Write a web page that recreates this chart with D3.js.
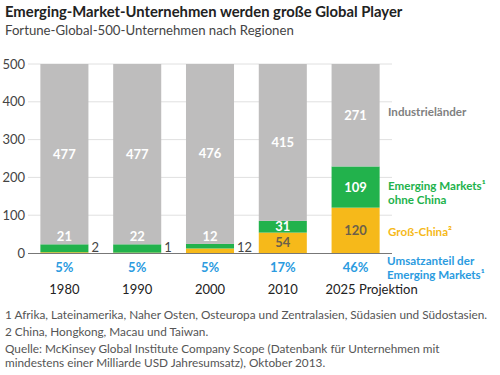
<!DOCTYPE html>
<html><head><meta charset="utf-8">
<script src="https://cdn.jsdelivr.net/npm/d3@7"></script>
<style>body{margin:0;background:#fff;} svg{display:block;font-family:Lato,"Open Sans",sans-serif;}</style>
</head><body>
<script>
const years = ["1980","1990","2000","2010","2025 Projektion"];
const china = [2,1,12,54,120];
const emerging = [21,22,12,31,109];
const industrial = [477,477,476,415,271];
const shares = ["5%","5%","5%","17%","46%"];
const yTicks = [0,100,200,300,400,500];

const W=500,H=375;
const svg=d3.select("body").append("svg").attr("width",W).attr("height",H);
const x=d3.scaleBand().domain(years).range([28,392]).paddingInner(0.34).paddingOuter(0.17);
const y=d3.scaleLinear().domain([0,500]).range([253,64]);
const C={grey:"#bebdbd",green:"#22b24c",yellow:"#f6b91a",blue:"#2b9be0",text:"#444"};

svg.append("text").attr("x",5).attr("y",17).attr("font-size",14.8).attr("font-weight","bold").attr("fill","#222").text("Emerging-Market-Unternehmen werden große Global Player");
svg.append("text").attr("x",5).attr("y",35).attr("font-size",13.2).attr("fill","#444").text("Fortune-Global-500-Unternehmen nach Regionen");

// gridlines
svg.append("g").selectAll("line").data(yTicks.slice(1)).join("line")
  .attr("x1",28).attr("x2",392).attr("y1",d=>y(d)).attr("y2",d=>y(d)).attr("stroke","#e0e0e0");
svg.append("g").selectAll("text").data(yTicks).join("text")
  .attr("x",25).attr("y",d=>y(d)+4.5).attr("text-anchor","end").attr("font-size",13).attr("fill","#444").text(d=>d);

const data=years.map((yr,i)=>({yr,vals:[china[i],emerging[i],industrial[i]]}));
const colors=[C.yellow,C.green,C.grey];
data.forEach((d,i)=>{
  let acc=0;
  d.vals.forEach((v,k)=>{
    svg.append("rect").attr("x",x(d.yr)).attr("width",x.bandwidth())
      .attr("y",y(acc+v)).attr("height",y(acc)-y(acc+v)).attr("fill",colors[k]);
    acc+=v;
  });
});
svg.append("line").attr("x1",28).attr("x2",392).attr("y1",y(0)+0.5).attr("y2",y(0)+0.5).attr("stroke","#777").attr("stroke-width",1.2);

// labels
const lab=(xx,yy,t,fill,anchor)=>svg.append("text").attr("x",xx).attr("y",yy).attr("text-anchor",anchor||"middle")
  .attr("font-size",13).attr("font-weight","bold").attr("fill",fill).text(t);
data.forEach((d,i)=>{
  const cx=x(d.yr)+x.bandwidth()/2;
  const [c,e,g]=d.vals;
  lab(cx,y(c+e+g/2)+4.5,g,"#fff");
  if(c>=30){
    lab(cx,y(c/2)+4.5,c,"#6b604a");
    lab(cx,y(c+e/2)+4.5,e,"#fff");
  } else {
    lab(cx,y(c+e)-3,e,"#fff");
    svg.append("text").attr("x",x(d.yr)+x.bandwidth()+3).attr("y",y(0)-1).attr("font-size",13).attr("fill","#444").text(c);
  }
  svg.append("text").attr("x",cx).attr("y",y(0)+19).attr("text-anchor","middle").attr("font-size",13).attr("font-weight","bold").attr("fill",C.blue).text(shares[i]);
  svg.append("text").attr("x",cx+(i==4?16:0)).attr("y",y(0)+41).attr("text-anchor","middle").attr("font-size",13).attr("fill","#222").text(d.yr);
});

// legend
const leg=(xx,yy,lines,fill,lh)=>{
  lines.forEach((l,j)=>svg.append("text").attr("x",xx).attr("y",yy+j*lh).attr("font-size",11.6).attr("font-weight","bold").attr("fill",fill).text(l));
};
leg(388,116,["Industrieländer"],"#808080",13.5);
leg(388,190,["Emerging Markets¹","ohne China"],C.green,13.5);
leg(388,236,["Groß-China²"],C.yellow,13.5);
leg(387,265,["Umsatzanteil der","Emerging Markets¹"],C.blue,13.5);

const notes=["1 Afrika, Lateinamerika, Naher Osten, Osteuropa und Zentralasien, Südasien und Südostasien.",
"2 China, Hongkong, Macau und Taiwan.",
"Quelle: McKinsey Global Institute Company Scope (Datenbank für Unternehmen mit",
"mindestens einer Milliarde USD Jahresumsatz), Oktober 2013."];
const ny=[319,336,353,367];
notes.forEach((n,i)=>svg.append("text").attr("x",5).attr("y",ny[i]).attr("font-size",11.8).attr("fill","#555").text(n));
</script>
</body></html>
